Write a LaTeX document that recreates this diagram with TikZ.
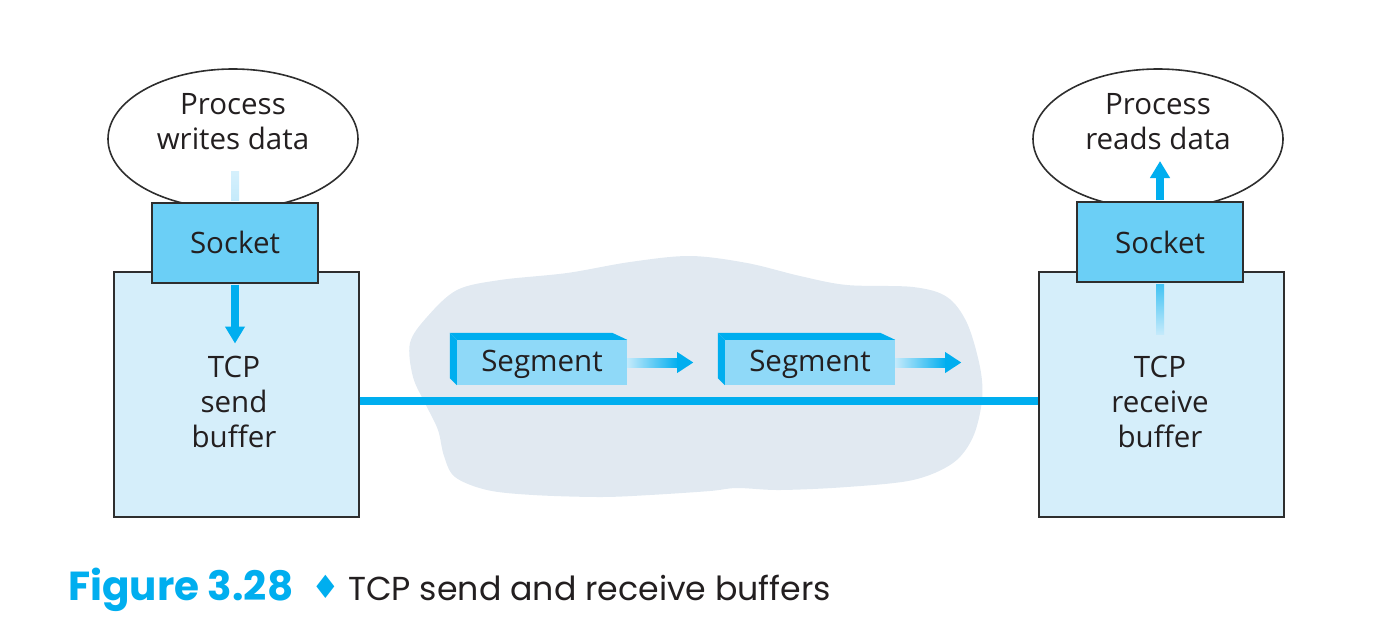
\documentclass[tikz,border=0pt]{standalone}
\usepackage{fontspec}
\setmainfont{Open Sans}
\newfontfamily\capfont{Poppins}
\newfontfamily\symfont{DejaVu Sans}
\usetikzlibrary{shapes.geometric,arrows.meta,calc}

\definecolor{ink}{HTML}{231F20}
\definecolor{edge}{HTML}{2E2E2E}
\definecolor{sockblue}{HTML}{6BCFF6}
\definecolor{bufblue}{HTML}{D5EEFA}
\definecolor{flow}{HTML}{00AEEF}
\definecolor{flowfade}{HTML}{C4EAFB}
\definecolor{segfront}{HTML}{8FD9F8}
\definecolor{cloudfill}{HTML}{E1E9F1}

\begin{document}
\begin{tikzpicture}[x=1pt,y=-1pt,
  txt/.style={text=ink,font=\fontsize{29.5}{35}\selectfont,align=center,inner sep=0},
  procbox/.style={draw=edge,line width=1.6pt,ellipse,fill=white,
    minimum width=250pt,minimum height=140pt,inner sep=0},
  bufbox/.style={draw=edge,line width=2pt,fill=bufblue,
    minimum width=245pt,minimum height=245pt,inner sep=0},
  sockbox/.style={draw=edge,line width=2pt,fill=sockblue,
    minimum width=166pt,minimum height=80pt,inner sep=0,txt},
  segbox/.style={fill=segfront,minimum width=170pt,minimum height=45pt,inner sep=0,txt,
    text height=24pt,text depth=6pt},
  segside/.style={fill=flow},
  flowarrow/.style={draw=flow,line width=8pt,-{Triangle[length=17pt,width=19pt]}},
  cable/.style={line width=8pt,draw=flow},
]
\useasboundingbox (0,0) rectangle (1378,638);

% network cloud
\fill[cloudfill] plot[smooth cycle,tension=0.55] coordinates {
  (410,343) (427,317) (457,290) (500,280) (567,273) (630,262) (690,256)
  (747,263) (800,276) (847,285) (913,287) (947,297) (967,323) (980,367)
  (982,400) (973,437) (953,463) (913,480) (847,487) (780,490) (737,488)
  (710,491) (650,495) (600,497) (533,495) (487,490) (455,477) (444,456)
  (438,430) (426,405) (413,377)};

% sending side
\node[procbox] (lproc) at (233,139) {};
\node[txt] (lproctxt) at (233,122) {Process\\writes data};
\node[bufbox] (lbuf) at (236,394.5) {};
\node[txt] (lbuftxt) at (234,402) {TCP\\send\\buffer};
\node[sockbox] (lsock) at (235,242.5) {Socket};

% receiving side
\node[procbox] (rproc) at (1158,139) {};
\node[txt] (rproctxt) at (1158,122) {Process\\reads data};
\node[bufbox] (rbuf) at (1161.5,394.5) {};
\node[txt] (rbuftxt) at (1160,402) {TCP\\receive\\buffer};
\node[sockbox] (rsock) at (1160,242) {Socket};

% data flow through the sockets
\shade[top color=flowfade!70!white,bottom color=flowfade]
  ($(lsock.north)+(-4,-30)$) rectangle ($(lsock.north)+(4,-1)$);
\coordinate (lin) at ($(lsock.south)+(0,60)$);
\draw[flowarrow] ($(lsock.south)+(0,1)$) -- (lin);

\coordinate (rout) at ($(rsock.north)+(0,-40)$);
\draw[flowarrow] ($(rsock.north)+(0,-1)$) -- (rout);
\shade[top color=flow!75!white,bottom color=flowfade]
  ($(rsock.south)+(-4,1)$) rectangle ($(rsock.south)+(4,51)$);

% connection
\draw[cable] ([yshift=-6.5pt]lbuf.east) -- ([yshift=-6.5pt]rbuf.west);

% segments in transit
\foreach \n/\x in {1/542,2/810}{
  \node[segbox] (seg\n) at (\x,362.5) {Segment};
  \fill[segside] (seg\n.north west) -- ++(-7,-7)
    -- ($(seg\n.north east)+(-15,-7)$) -- (seg\n.north east) -- cycle;
  \fill[segside] (seg\n.north west) -- ++(-7,-7)
    -- ($(seg\n.south west)+(-7,-7)$) -- (seg\n.south west) -- cycle;
  \shade[left color=flowfade,right color=flow]
    ($(seg\n.east)+(0,-4.5)$) rectangle ($(seg\n.east)+(51,4.5)$);
  \coordinate (tip\n) at ($(seg\n.east)+(66,0)$);
  \fill[flow] ($(seg\n.east)+(50,-10.5)$) -- (tip\n) -- ($(seg\n.east)+(50,10.5)$) -- cycle;
}

% caption
\node[anchor=base west,inner sep=0,text=flow,font=\capfont\bfseries\fontsize{40.5}{48}\selectfont]
  (fignum) at (68,600) {Figure 3.28};
\node[anchor=base west,inner sep=0,text=flow,font=\symfont\fontsize{32}{40}\selectfont]
  (figsep) at (311,598) {♦};
\node[anchor=base west,inner sep=0,text=ink,font=\capfont\fontsize{33.2}{40}\selectfont]
  (figtxt) at (348,600) {TCP send and receive buffers};
\end{tikzpicture}
\end{document}
